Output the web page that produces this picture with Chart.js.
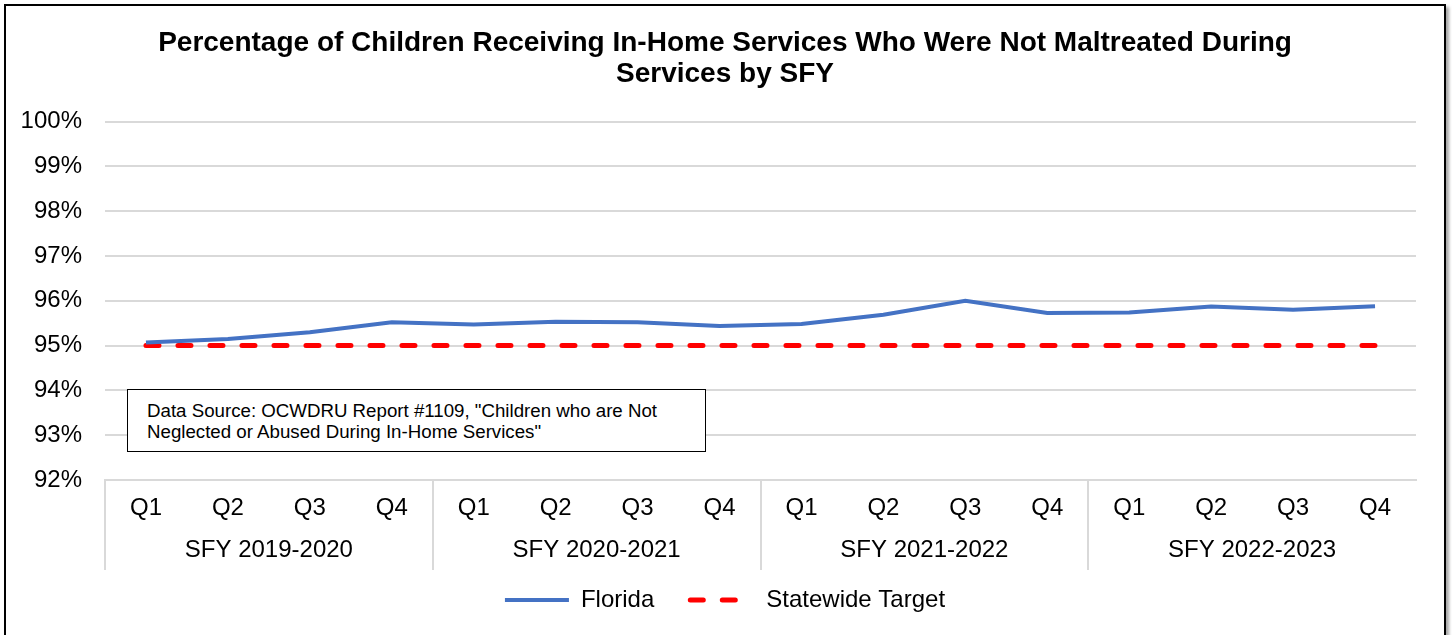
<!DOCTYPE html>
<html lang="en">

<head>
  <meta charset="UTF-8" />
  <title>Children Not Maltreated During In-Home Services</title>
  <script src="https://cdn.jsdelivr.net/npm/chart.js"></script>
  <style>
    body {
      margin: 0;
      width: 1452px;
      height: 635px;
      overflow: hidden;
      background: #ffffff;
      font-family: "Liberation Sans", Arial, sans-serif;
    }

    #frame {
      position: absolute;
      left: 4px;
      top: 4px;
      width: 1438px;
      height: 700px;
      border: 2px solid #000000;
      box-shadow: 3px 3px 3px rgba(0, 0, 0, 0.35);
    }

    #chartBox {
      position: absolute;
      left: 6px;
      top: 6px;
      width: 1438px;
      height: 629px;
    }

    #source {
      position: absolute;
      left: 127px;
      top: 389px;
      width: 558px;
      height: 42px;
      padding: 10px 0 9px 19px;
      border: 1px solid #000000;
      background: #ffffff;
      font-size: 18.7px;
      line-height: 21px;
      color: #000000;
      white-space: nowrap;
    }
  </style>
</head>

<body>
  <div id="frame"></div>
  <div id="chartBox"><canvas id="myChart"></canvas></div>
  <div id="source">Data Source: OCWDRU Report #1109, "Children who are Not<br>Neglected or Abused During In-Home Services"</div>

  <script>
    /* chart data */
    const quarters = ["Q1", "Q2", "Q3", "Q4", "Q1", "Q2", "Q3", "Q4",
      "Q1", "Q2", "Q3", "Q4", "Q1", "Q2", "Q3", "Q4"];
    const fiscalYears = ["SFY 2019-2020", "SFY 2020-2021", "SFY 2021-2022", "SFY 2022-2023"];
    const florida = [95.07, 95.15, 95.3, 95.52, 95.47, 95.53, 95.52, 95.44,
      95.48, 95.69, 96.0, 95.73, 95.74, 95.87, 95.8, 95.88];
    const statewideTarget = [95, 95, 95, 95, 95, 95, 95, 95,
      95, 95, 95, 95, 95, 95, 95, 95];
    const titleLines = [
      "Percentage of Children Receiving In-Home Services Who Were Not Maltreated During",
      "Services by SFY",
    ];

    const fontFamily = "'Liberation Sans', Arial, sans-serif";
    const gridGray = "#d9d9d9";

    // legend samples keep the dataset line style (dash, width, caps)
    function legendLabels(chart) {
      const items = Chart.defaults.plugins.legend.labels.generateLabels(chart);
      items.forEach((item, i) => {
        const ds = chart.data.datasets[i];
        item.strokeStyle = ds.borderColor;
        item.lineWidth = ds.borderWidth;
        item.lineDash = ds.borderDash || [];
        item.lineCap = ds.borderCapStyle || "butt";
        // wider gap after the first entry, like the original legend
        if (i === 0) item.text = ds.label + "\u2003";
      });
      return items;
    }

    var ctx = document.getElementById("myChart").getContext("2d");
    var chart = new Chart(ctx, {
      type: "line",
      data: {
        labels: quarters,
        datasets: [
          {
            label: "Florida",
            data: florida,
            borderColor: "#4472c4",
            backgroundColor: "#4472c4",
            borderWidth: 4,
            pointRadius: 0,
            fill: false,
            tension: 0,
          },
          {
            label: "Statewide Target",
            data: statewideTarget,
            borderColor: "#ff0000",
            backgroundColor: "#ff0000",
            borderWidth: 5,
            borderDash: [13, 19],
            borderCapStyle: "round",
            pointRadius: 0,
            fill: false,
          },
        ],
      },
      options: {
        responsive: true,
        maintainAspectRatio: false,
        animation: false,
        layout: {
          padding: { left: 0, right: 0, top: 0, bottom: 13 },
        },
        plugins: {
          title: {
            display: true,
            text: titleLines,
            color: "#000000",
            font: { family: fontFamily, size: 28, weight: "bold", lineHeight: 1.1 },
            padding: { top: 22, bottom: 32 },
          },
          legend: {
            position: "bottom",
            labels: {
              color: "#000000",
              font: { family: fontFamily, size: 24 },
              usePointStyle: true,
              pointStyle: "line",
              pointStyleWidth: 64,
              boxHeight: 10,
              padding: 12,
              generateLabels: legendLabels,
            },
          },
          tooltip: { enabled: false },
        },
        scales: {
          y: {
            min: 92,
            max: 100,
            ticks: {
              stepSize: 1,
              color: "#000000",
              padding: 23,
              font: { family: fontFamily, size: 24 },
              callback: (v) => v + "%",
            },
            grid: { color: gridGray, lineWidth: 2, drawTicks: false },
            border: { display: false },
            afterFit: (scale) => { scale.width = 99; },
          },
          // empty right margin so the title and legend stay centred on the frame
          yRight: {
            position: "right",
            ticks: { display: false },
            grid: { display: false, drawTicks: false },
            border: { display: false },
            afterFit: (scale) => { scale.width = 28; },
          },
          x: {
            offset: true,
            ticks: {
              color: "#000000",
              padding: -76,
              maxRotation: 0,
              autoSkip: false,
              font: { family: fontFamily, size: 24 },
            },
            grid: {
              offset: true,
              drawOnChartArea: false,
              tickLength: 90,
              lineWidth: 2,
              color: (c) => (c.index % 4 === 0 ? gridGray : "rgba(0,0,0,0)"),
            },
            border: { color: gridGray, width: 2 },
            afterFit: (scale) => { scale.height = 48; },
          },
          x2: {
            type: "category",
            labels: fiscalYears,
            offset: true,
            position: "bottom",
            ticks: {
              color: "#000000",
              padding: 8,
              maxRotation: 0,
              font: { family: fontFamily, size: 24 },
            },
            grid: { display: false, drawTicks: false },
            border: { display: false },
            afterFit: (scale) => { scale.height = 48; },
          },
        },
      },
    });
  </script>
</body>

</html>
